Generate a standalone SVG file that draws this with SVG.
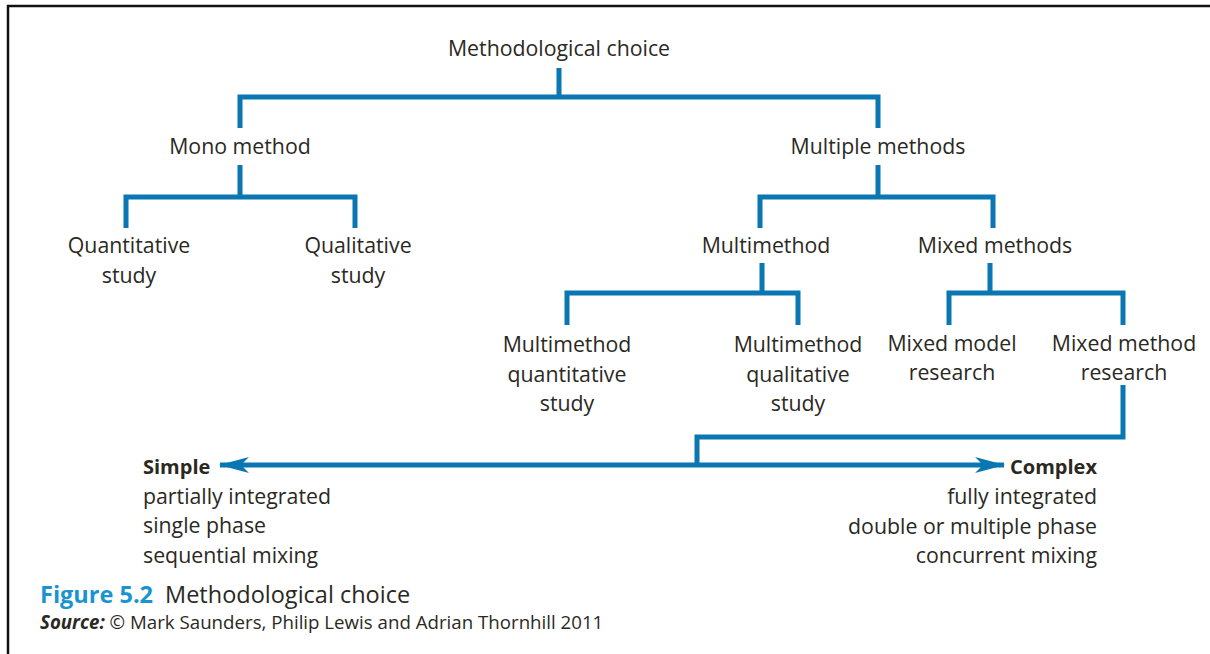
<svg xmlns="http://www.w3.org/2000/svg" width="1210" height="654" viewBox="0 0 1210 654">
<style>
.t{font-family:"Open Sans","Noto Sans",sans-serif;font-size:21.3px;fill:#2b291f;text-anchor:middle}
.b{font-weight:bold;font-size:20px}
.l{text-anchor:start}
.r{text-anchor:end}
.c{fill:none;stroke:#0a77b3;stroke-width:5;stroke-linecap:butt;stroke-linejoin:miter}
</style>
<defs>
<marker id="ah" viewBox="0 0 30 16" refX="29" refY="8" markerWidth="30" markerHeight="16" markerUnits="userSpaceOnUse" orient="auto-start-reverse">
<path d="M0,0 L30,8 L0,16 L8,8 Z" fill="#0a77b3"/>
</marker>
</defs>
<rect x="0" y="0" width="1210" height="654" fill="#fff"/>
<path d="M8,654 V6 H1210" fill="none" stroke="#111" stroke-width="2.5"/>
<g id="connectors">
<path class="c" d="M559,68 V97 M240,128 V97 H878 V128"/>
<path class="c" d="M240,165 V197 M126,228 V197 H355 V228"/>
<path class="c" d="M878,165 V197 M760,228 V197 H993 V228"/>
<path class="c" d="M762,263 V293 M567,325 V293 H798 V325"/>
<path class="c" d="M990,263 V293 M949,325 V293 H1123 V325"/>
<path class="c" d="M1123,385 V437 H697 V465"/>
<path class="c" d="M220,465 H1004" marker-start="url(#ah)" marker-end="url(#ah)"/>
</g>
<g id="n-root"><text class="t" x="559" y="56">Methodological choice</text></g>
<g id="n-mono"><text class="t" x="240" y="154">Mono method</text></g>
<g id="n-multiple"><text class="t" x="878" y="154">Multiple methods</text></g>
<g id="n-quant"><text class="t" x="129" y="253">Quantitative</text><text class="t" x="129" y="283">study</text></g>
<g id="n-qual"><text class="t" x="358" y="253">Qualitative</text><text class="t" x="358" y="283">study</text></g>
<g id="n-multimethod"><text class="t" x="766" y="253">Multimethod</text></g>
<g id="n-mixed"><text class="t" x="995" y="253">Mixed methods</text></g>
<g id="n-mmquant"><text class="t" x="567" y="352">Multimethod</text><text class="t" x="567" y="382">quantitative</text><text class="t" x="567" y="411">study</text></g>
<g id="n-mmqual"><text class="t" x="798" y="352">Multimethod</text><text class="t" x="798" y="382">qualitative</text><text class="t" x="798" y="411">study</text></g>
<g id="n-mixedmodel"><text class="t" x="952" y="351">Mixed model</text><text class="t" x="952" y="380">research</text></g>
<g id="n-mixedmethod"><text class="t" x="1124" y="351">Mixed method</text><text class="t" x="1124" y="380">research</text></g>
<g id="n-simple">
<text class="t l b" x="143" y="474">Simple</text>
<text class="t l" x="143" y="504">partially integrated</text>
<text class="t l" x="143" y="533">single phase</text>
<text class="t l" x="143" y="563">sequential mixing</text>
</g>
<g id="n-complex">
<text class="t r b" x="1097" y="474">Complex</text>
<text class="t r" x="1097" y="504">fully integrated</text>
<text class="t r" x="1097" y="534">double or multiple phase</text>
<text class="t r" x="1097" y="563">concurrent mixing</text>
</g>
<g id="caption">
<text class="t l" x="40" y="603" style="font-size:23.5px"><tspan font-weight="bold" style="fill:#1a94cf">Figure 5.2</tspan><tspan dx="12">Methodological choice</tspan></text>
<text class="t l" x="40" y="629" style="font-size:18.7px"><tspan font-weight="bold" font-style="italic">Source:</tspan> © Mark Saunders, Philip Lewis and Adrian Thornhill 2011</text>
</g>
</svg>
